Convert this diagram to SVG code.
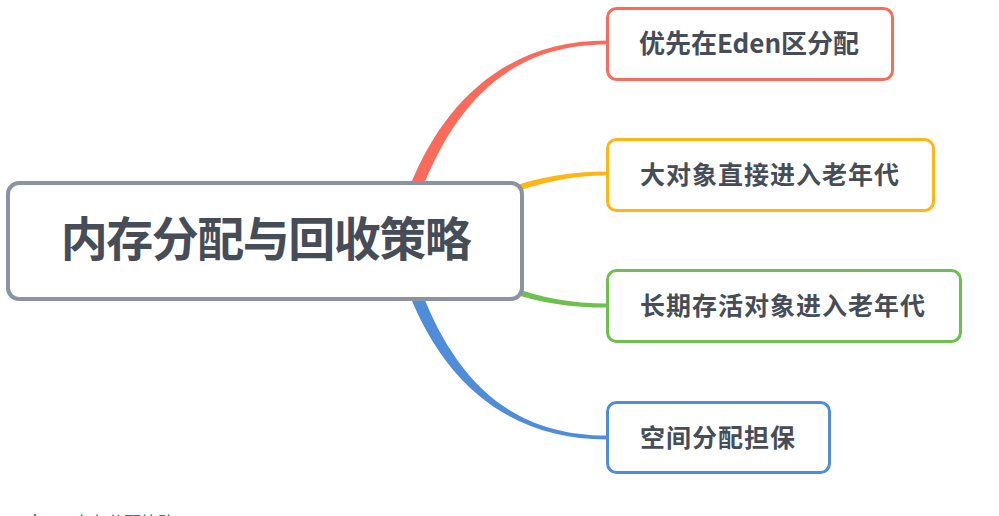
<svg xmlns="http://www.w3.org/2000/svg" width="999" height="516" viewBox="0 0 999 516">
<style>
.t{font-family:"Noto Sans CJK SC","Noto Sans",sans-serif;font-weight:bold;fill:#464d56;text-anchor:middle}
.sub{font-size:25px}
.box{fill:#ffffff;stroke-width:3}
</style>
<rect width="999" height="516" fill="#ffffff"/>
<g id="connectors">
<path d="M409.4,187.5 C444.9,98 510,40.5 607,40.5 L607,44.5 C510,44.5 455.6,102.5 420.6,192.5 Z" fill="#fa6b5b"/>
<path d="M504,189.2 C539,177.2 570,171.5 607,171.5 L607,175.5 C570,175.5 541,182.8 506,194.8 Z" fill="#ffb512"/>
<path d="M506,285.2 C541,297.2 570,303.5 607,303.5 L607,307.5 C570,307.5 539,302.8 504,290.8 Z" fill="#6cc04c"/>
<path d="M420.6,289.5 C455.6,380 510,435.5 607,435.5 L607,439.5 C510,439.5 444.9,384 409.4,294.5 Z" fill="#4f8cd9"/>
</g>
<g id="root">
<rect x="8" y="183" width="514" height="116" rx="11" fill="#ffffff" stroke="#8a93a3" stroke-width="4"/>
<text class="t" x="265.5" y="256" font-size="47" letter-spacing="-1.5">内存分配与回收策略</text>
</g>
<g id="n1">
<rect class="box" x="607.5" y="8.5" width="285" height="71" rx="9" stroke="#fa6b5b"/>
<text class="t" x="749" y="53" font-size="26">优先在Eden区分配</text>
</g>
<g id="n2">
<rect class="box" x="607.5" y="139.5" width="326" height="71" rx="9" stroke="#ffb512"/>
<text class="t sub" x="770" y="184" letter-spacing="1">大对象直接进入老年代</text>
</g>
<g id="n3">
<rect class="box" x="607.5" y="270.5" width="353" height="71" rx="9" stroke="#6cc04c"/>
<text class="t sub" x="783" y="315" letter-spacing="1">长期存活对象进入老年代</text>
</g>
<g id="n4">
<rect class="box" x="607.5" y="402.5" width="222" height="70" rx="9" stroke="#4f8cd9"/>
<text class="t sub" x="718" y="447" letter-spacing="1">空间分配担保</text>
</g>
<circle cx="35" cy="515" r="1.3" fill="#8a6fd0"/>
<text x="73" y="529" font-family="'Noto Sans CJK SC',sans-serif" font-size="17" fill="#1a6fd6">内存分配策略</text>
</svg>
